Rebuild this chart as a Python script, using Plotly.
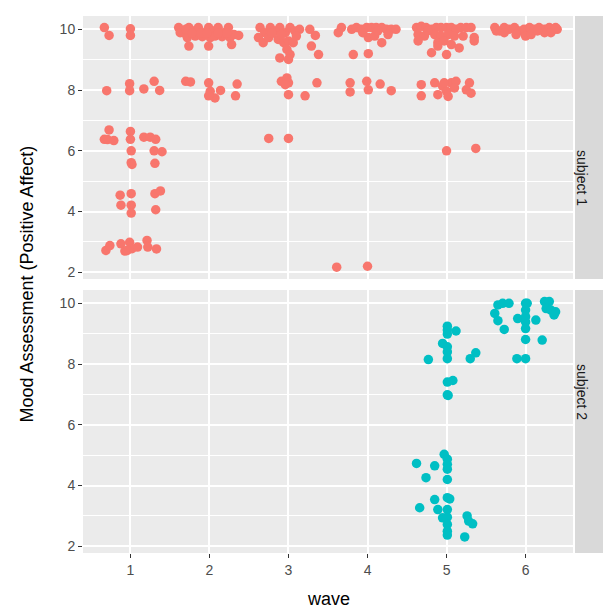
import plotly.graph_objects as go

# ---------------- data (jittered positions) ----------------
s1_wave = [
    # wave 1
    0.67, 0.73, 1.00, 1.00, 0.70, 0.99, 0.99, 1.17, 1.30, 1.37,
    0.73, 0.67, 0.71, 0.79, 1.00, 1.00, 1.17, 1.25, 1.32, 1.01, 1.30, 1.40,
    1.01, 1.02, 1.31, 0.87, 1.01, 1.31, 1.38, 0.88, 1.01, 1.01, 1.32,
    0.69, 0.74, 0.88, 0.93, 0.99, 1.02, 1.09, 1.21, 1.22, 1.33, 0.96,
    # wave 2
    1.61, 1.67, 1.74, 1.80, 1.86, 1.93, 1.99, 2.05, 2.11, 2.18, 2.24, 2.31, 2.37,
    1.63, 1.72, 1.82, 1.91, 2.01, 2.07, 2.16, 2.26, 1.74, 1.99, 2.28,
    1.70, 1.78, 1.89, 1.97, 2.11, 2.22,
    1.70, 1.76, 1.99, 2.01, 2.07, 2.14, 2.35, 2.33, 1.99,
    # wave 3
    2.64, 2.70, 2.77, 2.83, 2.89, 2.96, 3.02, 3.08, 3.14, 2.62, 2.68, 2.75,
    2.87, 2.94, 3.00, 3.06, 2.98, 3.02, 2.89, 3.00, 3.27, 3.34, 3.29, 3.38,
    3.10, 2.79, 2.91, 3.63, 3.67,
    2.91, 2.98, 3.00, 2.96, 3.00, 3.21, 3.36,
    2.75, 3.00,
    # wave 4
    3.80, 3.86, 3.92, 3.99, 4.05, 4.11, 4.18, 4.24, 4.30, 4.36,
    4.01, 4.09, 4.18, 4.26, 4.13, 3.94, 3.82, 4.01,
    3.78, 3.78, 3.99, 4.01, 4.16, 4.30,
    3.61, 4.00,
    # wave 5
    4.62, 4.68, 4.74, 4.81, 4.87, 4.93, 5.00, 5.06, 5.12, 5.18, 5.25, 5.31,
    4.64, 4.72, 4.85, 4.93, 5.02, 5.10, 5.21, 5.35, 4.64, 4.89, 4.97, 5.06,
    5.16, 5.35, 4.81, 5.00, 4.89, 4.76,
    4.68, 4.68, 4.85, 4.89, 4.95, 5.00, 5.02, 5.06, 5.12, 5.10, 4.97, 5.29, 5.31, 5.25,
    5.00, 5.37,
    # wave 6
    5.61, 5.67, 5.73, 5.79, 5.86, 5.92, 5.98, 6.05, 6.11, 6.17, 6.24, 6.30, 6.36, 6.40,
    5.88, 6.00, 6.07, 6.24, 5.73, 6.32, 5.63, 6.38, 6.15,
]
s1_mood = [
    # wave 1
    10.06, 9.80, 10.02, 9.80, 7.98, 8.21, 7.98, 8.04, 8.29, 7.99,
    6.69, 6.38, 6.37, 6.34, 6.64, 6.38, 6.45, 6.45, 6.38, 6.00, 6.00, 5.97,
    5.61, 5.55, 5.59, 4.54, 4.59, 4.59, 4.68, 4.21, 4.21, 3.95, 4.06,
    2.72, 2.88, 2.94, 2.70, 2.99, 2.78, 2.83, 3.05, 2.83, 2.77, 2.72,
    # wave 2
    10.06, 9.89, 10.06, 9.95, 10.06, 9.89, 10.06, 9.95, 10.06, 9.89, 10.06, 9.83, 9.80,
    9.89, 9.73, 9.78, 9.76, 9.73, 9.78, 9.76, 9.73, 9.45, 9.45, 9.50,
    10.00, 9.87, 9.87, 9.87, 9.87, 9.87,
    8.29, 8.27, 8.24, 7.96, 7.74, 7.99, 8.20, 7.81, 7.81,
    # wave 3
    10.06, 9.89, 10.06, 9.95, 10.06, 9.89, 10.06, 9.95, 10.00, 9.73, 9.56, 9.73,
    9.67, 9.56, 9.62, 9.56, 9.34, 9.17, 9.06, 9.01, 10.00, 9.80, 9.45, 9.17,
    9.78, 9.87, 9.83, 9.89, 10.06,
    8.29, 8.40, 8.24, 8.18, 7.85, 7.81, 8.24,
    6.41, 6.41,
    # wave 4
    10.00, 10.06, 10.00, 10.06, 10.06, 10.06, 10.06, 10.00, 10.00, 10.00,
    9.73, 9.78, 9.56, 9.83, 9.95, 9.89, 9.17, 9.20,
    8.24, 7.94, 8.29, 8.01, 8.20, 7.98,
    2.17, 2.20,
    # wave 5
    10.06, 10.10, 10.06, 10.00, 10.06, 10.06, 10.06, 10.06, 10.00, 10.06, 10.06, 10.06,
    9.83, 9.78, 9.83, 9.78, 9.83, 9.78, 9.78, 9.73, 9.62, 9.56, 9.62, 9.50,
    9.39, 9.62, 9.23, 9.17, 9.45, 9.95,
    8.18, 7.81, 8.24, 7.85, 8.13, 7.96, 7.79, 8.24, 8.29, 8.07, 8.24, 8.24, 7.90, 8.01,
    6.00, 6.08,
    # wave 6
    10.06, 9.95, 10.06, 10.00, 10.06, 9.95, 10.00, 10.06, 10.00, 10.06, 10.00, 10.06, 10.00, 10.00,
    9.83, 9.78, 9.83, 9.89, 9.89, 9.89, 9.95, 10.06, 9.95,
]

s2_wave = [
    # wave 5
    5.01, 5.01, 5.01, 5.12, 4.95, 5.01, 5.01, 5.01, 4.77, 5.30, 5.37,
    5.01, 5.08, 5.01, 5.02,
    4.97, 5.01, 5.01, 5.01, 4.62, 4.85, 4.74, 5.01,
    4.85, 5.01, 5.04, 4.66, 4.89, 5.01, 4.95, 5.01, 5.01, 5.01,
    5.26, 5.28, 5.33, 5.01, 5.23,
    # wave 6
    5.65, 5.71, 5.79, 5.61, 5.65, 5.73, 5.90, 6.00, 6.02, 6.00, 6.00, 6.00,
    6.00, 6.13, 6.00, 6.21, 5.89, 6.00, 6.24, 6.30, 6.26, 6.32, 6.38, 6.36,
]
s2_mood = [
    # wave 5
    9.25, 9.12, 8.99, 9.09, 8.68, 8.57, 8.40, 8.18, 8.15, 8.18, 8.37,
    7.41, 7.46, 6.99, 6.97,
    5.03, 4.87, 4.70, 4.54, 4.73, 4.65, 4.26, 4.20,
    3.54, 3.60, 3.56, 3.27, 3.21, 3.21, 2.94, 2.96, 2.72, 2.50,
    3.00, 2.83, 2.74, 2.37, 2.31,
    # wave 6
    9.95, 10.00, 10.00, 9.67, 9.43, 9.14, 9.50, 10.00, 10.00, 9.78, 9.56, 9.39,
    9.17, 9.45, 8.81, 8.79, 8.18, 8.18, 10.06, 10.06, 9.83, 9.78, 9.72, 9.62,
]

wave_ticks = [1, 2, 3, 4, 5, 6]
mood_ticks = [2, 4, 6, 8, 10]
panel_labels = ["subject 1", "subject 2"]
colors = ["#F8766D", "#00BFC4"]

# ---------------- figure ----------------
FONT = "Liberation Sans, Arial, Helvetica, sans-serif"
fig = go.Figure()
fig.add_trace(go.Scatter(x=s1_wave, y=s1_mood, mode="markers", xaxis="x2", yaxis="y2",
                         marker=dict(color=colors[0], size=9.5, line=dict(width=0)),
                         showlegend=False, hoverinfo="x+y"))
fig.add_trace(go.Scatter(x=s2_wave, y=s2_mood, mode="markers", xaxis="x", yaxis="y",
                         marker=dict(color=colors[1], size=9.5, line=dict(width=0)),
                         showlegend=False, hoverinfo="x+y"))

gap = 11 / 537
dom_bot = [0, 0.5 - gap / 2]
dom_top = [0.5 + gap / 2, 1]

xcommon = dict(range=[0.4, 6.6], tickvals=wave_ticks, showgrid=True, gridcolor="white",
               gridwidth=1.6, zeroline=False, showline=False, fixedrange=True)
ycommon = dict(range=[1.78, 10.44], tickvals=mood_ticks, showgrid=True, gridcolor="white",
               gridwidth=1.6, zeroline=False, showline=False,
               minor=dict(tickvals=[3, 5, 7, 9], showgrid=True, gridcolor="white", gridwidth=0.8, ticks=""),
               ticks="outside", ticklen=4, tickwidth=1.1, tickcolor="#333333",
               tickfont=dict(family=FONT, size=14, color="#4D4D4D"))

fig.update_layout(
    width=611, height=609,
    margin=dict(l=75, r=46, t=8, b=64),
    paper_bgcolor="white", plot_bgcolor="#EBEBEB",
    font=dict(family=FONT),
    xaxis=dict(**xcommon, anchor="y", domain=[0, 1], ticks="outside", ticklen=4, tickwidth=1.1,
               tickcolor="#333333", tickfont=dict(family=FONT, size=14, color="#4D4D4D")),
    xaxis2=dict(**xcommon, anchor="y2", domain=[0, 1], matches="x", showticklabels=False, ticks=""),
    yaxis=dict(**ycommon, anchor="x", domain=dom_bot),
    yaxis2=dict(**ycommon, anchor="x2", domain=dom_top, matches="y"),
)

# strips
x0s = (567 - 75) / 490
x1s = (602 - 75) / 490
for dom, lab in zip([dom_top, dom_bot], panel_labels):
    fig.add_shape(type="rect", xref="paper", yref="paper", x0=x0s, x1=x1s, y0=dom[0], y1=dom[1],
                  fillcolor="#D9D9D9", line=dict(width=0), layer="below")
    fig.add_annotation(xref="paper", yref="paper", x=(x0s + x1s) / 2, y=(dom[0] + dom[1]) / 2,
                       text=lab, textangle=90, showarrow=False,
                       font=dict(family=FONT, size=14, color="#1A1A1A"))

# axis titles
fig.add_annotation(xref="paper", yref="paper", x=0.5, y=(545 - 591) / 537, text="wave",
                   showarrow=False, xanchor="center", yanchor="middle",
                   font=dict(family=FONT, size=18, color="black"))
fig.add_annotation(xref="paper", yref="paper", x=(18 - 75) / 490, y=0.5,
                   text="Mood Assessment (Positive Affect)", textangle=-90,
                   showarrow=False, xanchor="center", yanchor="middle",
                   font=dict(family=FONT, size=18, color="black"))

fig.write_html("out.html")
